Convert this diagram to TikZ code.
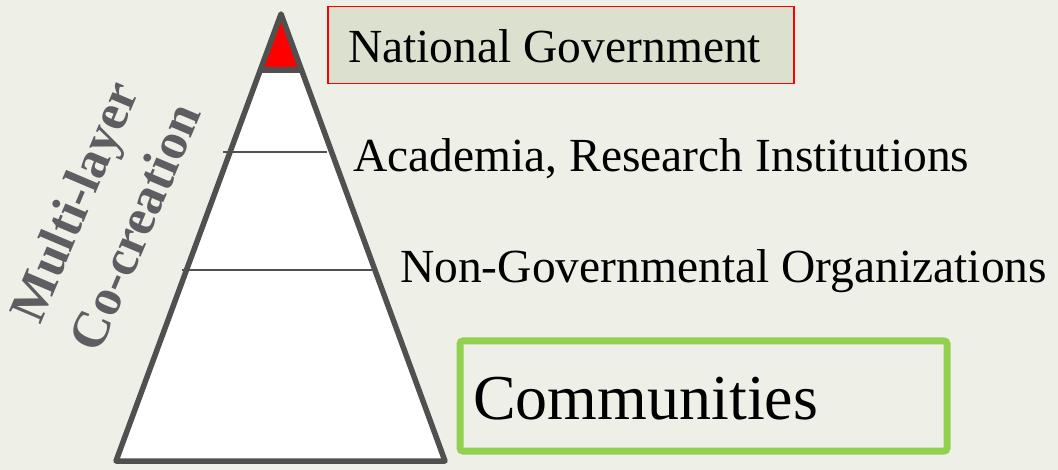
\documentclass[tikz,border=0pt]{standalone}
\usepackage{fontspec}
\setmainfont{Liberation Serif}
\definecolor{bg}{HTML}{EEF0E8}
\definecolor{edge}{HTML}{505050}
\definecolor{govfill}{HTML}{DCE1CF}
\definecolor{commgreen}{HTML}{92D050}
\definecolor{metal}{HTML}{5E5E62}
\tikzset{
  pyr/.style={draw=edge, line width=5.5pt, line join=round},
  tier/.style={draw=edge, line width=1.6pt},
  lbl/.style={anchor=base west, inner sep=0pt, font=\fontsize{47.5}{57}\selectfont, text=black},
}
\begin{document}
\begin{tikzpicture}[x=1pt,y=-1pt]
\useasboundingbox[fill=bg] (0,0) rectangle (1058,470);
% pyramid corners
\coordinate (apex) at (281,14);
\coordinate (bl) at (116,461);
\coordinate (br) at (445,461);
\coordinate (tl) at (261.4,70);
\coordinate (tr) at (300.6,70);
\fill[white] (apex) -- (bl) -- (br) -- cycle;
\fill[red] (apex) -- (tl) -- (tr) -- cycle;
\draw[pyr] (tl) -- (tr);
\coordinate (a1) at (223,152);
\coordinate (a2) at (327,152);
\coordinate (n1) at (182,270);
\coordinate (n2) at (372,270);
\draw[tier] (a1) -- (a2);
\draw[tier] (n1) -- (n2);
\draw[pyr] (apex) -- (bl) -- (br) -- cycle;
% national government box
\node[draw=red, line width=1.5pt, fill=govfill, inner sep=0pt, minimum width=466pt, minimum height=77pt, anchor=north west] (govbox) at (327,6) {};
\node[lbl] (gov) at (348,63) {National Government};
\node[lbl] (acad) at (353,172) {Academia, Research Institutions};
\node[lbl] (ngo) at (400,283) {Non-Governmental Organizations};
% communities box
\node[draw=commgreen, line width=7pt, rounded corners=3pt, fill=bg, inner sep=0pt, minimum width=487pt, minimum height=110pt, anchor=north west] (commbox) at (456.5,337.5) {};
\node[anchor=base west, inner sep=0pt, font=\fontsize{64}{76}\selectfont] (comm) at (473,419) {Communities};
% rotated title
\node[rotate=67, align=center, inner sep=0pt, text=metal, font=\bfseries\fontsize{52}{66}\selectfont] (title) at (104,214) {Multi-layer\\Co-creation};
\end{tikzpicture}
\end{document}
